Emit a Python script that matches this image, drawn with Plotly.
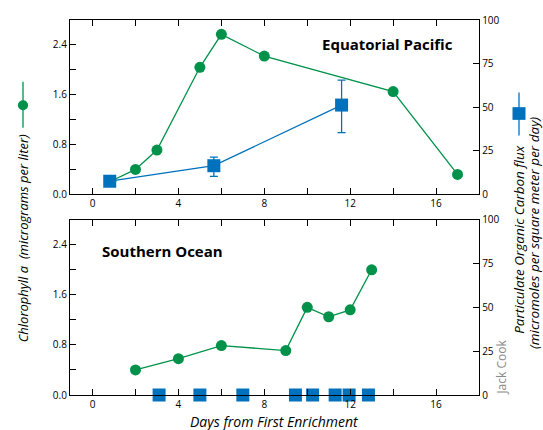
import plotly.graph_objects as go

# ---- data ----
eq_chl_days = [0.85, 2, 3, 5, 6, 8, 14, 17]
eq_chl = [0.21, 0.40, 0.71, 2.04, 2.57, 2.22, 1.65, 0.32]
eq_poc_days = [0.8, 5.65, 11.6]
eq_poc = [7.5, 16.4, 51.2]
eq_poc_err_plus = [0, 4.9, 14.3]
eq_poc_err_minus = [0, 6.1, 15.8]

so_chl_days = [2, 4, 6, 9, 10, 11, 12, 13]
so_chl = [0.40, 0.58, 0.79, 0.71, 1.40, 1.25, 1.36, 2.00]
so_poc_days = [3.1, 5.0, 7.0, 9.45, 10.25, 11.3, 11.95, 12.85]
so_poc = [0, 0, 0, 0, 0, 0, 0, 0]

x_ticks = [0, 4, 8, 12, 16]
chl_ticks = [0.0, 0.8, 1.6, 2.4]
chl_tick_text = ["0.0", "0.8", "1.6", "2.4"]
poc_ticks = [0, 25, 50, 75, 100]

GREEN = "#00924a"
BLUE = "#0071bc"
FONT = "Open Sans"

fig = go.Figure()

fig.add_trace(go.Scatter(x=eq_chl_days, y=eq_chl, mode="lines+markers",
                         line=dict(color=GREEN, width=1.3),
                         marker=dict(color=GREEN, size=11, symbol="circle"),
                         xaxis="x2", yaxis="y3", showlegend=False, cliponaxis=False))
fig.add_trace(go.Scatter(x=eq_poc_days, y=eq_poc, mode="lines+markers",
                         line=dict(color=BLUE, width=1.3),
                         marker=dict(color=BLUE, size=13, symbol="square"),
                         error_y=dict(type="data", array=eq_poc_err_plus, arrayminus=eq_poc_err_minus,
                                      color=BLUE, thickness=1.3, width=4),
                         xaxis="x2", yaxis="y4", showlegend=False, cliponaxis=False))
fig.add_trace(go.Scatter(x=so_chl_days, y=so_chl, mode="lines+markers",
                         line=dict(color=GREEN, width=1.3),
                         marker=dict(color=GREEN, size=11, symbol="circle"),
                         xaxis="x", yaxis="y", showlegend=False, cliponaxis=False))
fig.add_trace(go.Scatter(x=so_poc_days, y=so_poc, mode="markers",
                         marker=dict(color=BLUE, size=13, symbol="square"),
                         xaxis="x", yaxis="y2", showlegend=False, cliponaxis=False))

ax_common = dict(showline=True, linecolor="black", linewidth=1.3, showgrid=False,
                 zeroline=False, ticks="inside", ticklen=6, tickwidth=1.2, tickcolor="black",
                 tickfont=dict(family=FONT, size=10, color="black"))

xcommon = dict(ax_common, range=[-1.05, 18.0], tickvals=x_ticks, mirror="ticks",
               minor=dict(dtick=2, tick0=0, ticks="inside", ticklen=6, tickwidth=1.2, tickcolor="black"))
ylcommon = dict(ax_common, range=[0, 2.8], tickvals=chl_ticks, ticktext=chl_tick_text,
                minor=dict(dtick=0.4, tick0=0, ticks="inside", ticklen=6, tickwidth=1.2, tickcolor="black"))
yrcommon = dict(ax_common, range=[0, 100], tickvals=poc_ticks, side="right")

TOP = [0.5352, 1.0]
BOT = [0.0, 0.4674]

fig.update_layout(
    width=543, height=430,
    margin=dict(l=70, r=64, t=12, b=35),
    paper_bgcolor="white", plot_bgcolor="white",
    font=dict(family=FONT, color="black"),
    xaxis=dict(xcommon, anchor="y", domain=[0, 1]),
    xaxis2=dict(xcommon, anchor="y3", domain=[0, 1]),
    yaxis=dict(ylcommon, anchor="x", domain=BOT),
    yaxis2=dict(yrcommon, anchor="x", overlaying="y"),
    yaxis3=dict(ylcommon, anchor="x2", domain=TOP),
    yaxis4=dict(yrcommon, anchor="x2", overlaying="y3"),
)

rx = 1.0978   # first right-title line / glyph
rx2 = 1.1345  # second right-title line
gx = -0.1149

annotations = [
    dict(text="<b>Equatorial Pacific</b>", xref="paper", yref="paper", x=0.941, y=0.9355,
         xanchor="right", yanchor="middle", showarrow=False, font=dict(size=15, family=FONT)),
    dict(text="<b>Southern Ocean</b>", xref="paper", yref="paper", x=0.0733, y=0.383,
         xanchor="left", yanchor="middle", showarrow=False, font=dict(size=15, family=FONT)),
    dict(text="<i>Days from First Enrichment</i>", xref="paper", yref="paper", x=0.5, y=-0.0696,
         xanchor="center", yanchor="middle", showarrow=False, font=dict(size=14, family=FONT)),
    dict(text="<i>Chlorophyll a  (micrograms per liter)</i>", xref="paper", yref="paper",
         x=gx, y=0.4178, xanchor="center", yanchor="middle", textangle=-90,
         showarrow=False, font=dict(size=13, family=FONT)),
    dict(text="<i>Particulate Organic Carbon flux</i>", xref="paper", yref="paper",
         x=rx, y=0.4138, xanchor="center", yanchor="middle", textangle=-90,
         showarrow=False, font=dict(size=13.5, family=FONT)),
    dict(text="<i>(micromoles per square meter per day)</i>", xref="paper", yref="paper",
         x=rx2, y=0.432, xanchor="center", yanchor="middle", textangle=-90,
         showarrow=False, font=dict(size=13.5, family=FONT)),
    dict(text="Jack Cook", xref="paper", yref="paper", x=1.0562, y=0.0757,
         xanchor="center", yanchor="middle", textangle=-90,
         showarrow=False, font=dict(size=12, family=FONT, color="#8a8a8a")),
]
fig.update_layout(annotations=annotations)

# legend glyphs next to axis titles
shapes = [
    dict(type="line", xref="paper", yref="paper", x0=gx, x1=gx, y0=0.7128, y1=0.8355,
         line=dict(color=GREEN, width=1.3)),
    dict(type="circle", xref="paper", yref="paper", x0=gx - 0.0125, x1=gx + 0.0125,
         y0=0.7728 - 0.0133, y1=0.7728 + 0.0133, fillcolor=GREEN, line=dict(width=0)),
    dict(type="line", xref="paper", yref="paper", x0=rx, x1=rx, y0=0.6919, y1=0.8068,
         line=dict(color=BLUE, width=1.3)),
    dict(type="rect", xref="paper", yref="paper", x0=rx - 0.0159, x1=rx + 0.0159,
         y0=0.7337, y1=0.7676, fillcolor=BLUE, line=dict(width=0)),
]
fig.update_layout(shapes=shapes)

fig.write_html(
    "out.html",
    config={"displayModeBar": False},
    post_script="document.body.style.margin='0';document.documentElement.style.overflow='hidden';",
)
